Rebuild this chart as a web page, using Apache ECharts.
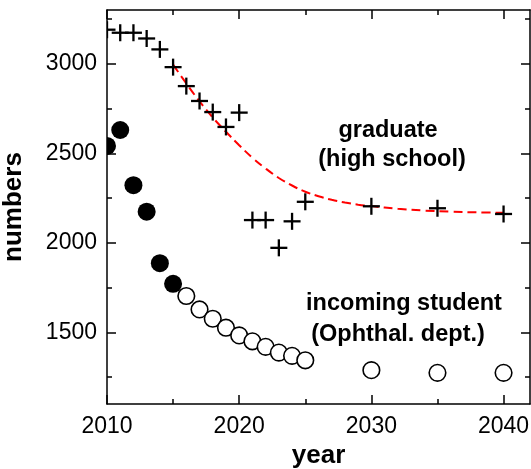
<!DOCTYPE html>
<html>
<head>
<meta charset="utf-8">
<script src="https://cdn.jsdelivr.net/npm/echarts@6/dist/echarts.min.js"></script>
<style>html,body{margin:0;padding:0;background:#fff;}#c{width:531px;height:469px;}</style>
</head>
<body>
<div id="c"></div>
<script>
// graduate (high school) - crosses
const gradYears = [2010, 2011, 2012, 2013, 2014, 2015, 2016, 2017, 2018, 2019, 2020, 2021, 2022, 2023, 2024, 2025, 2030, 2035, 2040];
const gradValues = [3190, 3173, 3173, 3141, 3080, 2981, 2875, 2792, 2730, 2647, 2727, 2127, 2127, 1972, 2120, 2229, 2204, 2193, 2161];
// incoming student - filled circles (observed)
const inYearsFilled = [2010, 2011, 2012, 2013, 2014, 2015];
const inValuesFilled = [2541, 2630, 2322, 2174, 1886, 1771];
// incoming student - open circles (projected)
const inYearsOpen = [2016, 2017, 2018, 2019, 2020, 2021, 2022, 2023, 2024, 2025, 2030, 2035, 2040];
const inValuesOpen = [1703, 1628, 1576, 1526, 1483, 1450, 1419, 1387, 1369, 1344, 1289, 1274, 1274];
// red dashed fitted curve
const fitYears = [2015, 2016, 2017, 2018, 2019, 2020, 2021, 2022, 2023, 2024, 2025, 2026, 2027, 2028, 2029, 2030, 2032, 2034, 2036, 2038, 2040];
const fitValues = [2995, 2890, 2790, 2700, 2620, 2545, 2475, 2415, 2362, 2320, 2285, 2260, 2240, 2225, 2213, 2205, 2190, 2180, 2174, 2170, 2168];
// ticks
const xMajor = [2010, 2020, 2030, 2040];
const xMinor = [2015, 2025, 2035];
const yMajor = [1500, 2000, 2500, 3000];
const yMinor = [1250, 1750, 2250, 2750, 3250];

const zip = (a, b) => a.map((v, i) => [v, b[i]]);
const FONT = '"Liberation Sans", Arial, sans-serif';
const lineStyle = { color: '#000', width: 1.5 };

function xAx(pos, ticks, len, showLine, showLabel) {
  return {
    type: 'value', position: pos, min: 2010, max: 2042,
    axisLine: { show: showLine, lineStyle: lineStyle },
    axisTick: { show: true, inside: true, length: len, customValues: ticks, lineStyle: { color: '#000', width: 1.5 } },
    axisLabel: { show: showLabel, customValues: xMajor, formatter: v => String(v), color: '#000', fontSize: 23, fontFamily: FONT, margin: 11 },
    splitLine: { show: false }
  };
}
function yAx(pos, ticks, len, showLine, showLabel) {
  return {
    type: 'value', position: pos, min: 1100, max: 3300,
    axisLine: { show: showLine, lineStyle: lineStyle },
    axisTick: { show: true, inside: true, length: len, customValues: ticks, lineStyle: { color: '#000', width: 1.5 } },
    axisLabel: { show: showLabel, customValues: yMajor, formatter: v => String(v), color: '#000', fontSize: 23, fontFamily: FONT, margin: 10 },
    splitLine: { show: false }
  };
}

const xAxes = [
  Object.assign(xAx('bottom', xMajor, 9, true, true), {
    name: 'year', nameLocation: 'middle', nameGap: 37,
    nameTextStyle: { color: '#000', fontSize: 26, fontWeight: 'bold', fontFamily: FONT }
  }),
  xAx('bottom', xMinor, 5, false, false),
  xAx('top', xMajor, 9, true, false),
  xAx('top', xMinor, 5, false, false)
];
const yAxes = [
  Object.assign(yAx('left', yMajor, 9, true, true), {
    name: 'numbers', nameLocation: 'middle', nameGap: 80,
    nameTextStyle: { color: '#000', fontSize: 26, fontWeight: 'bold', fontFamily: FONT }
  }),
  yAx('left', yMinor, 5, false, false),
  yAx('right', yMajor, 9, true, false),
  yAx('right', yMinor, 5, false, false)
];

function crossItem(params, api) {
  const p = api.coord([api.value(0), api.value(1)]);
  const h = 8.5;
  const st = { stroke: '#000', lineWidth: 2.3 };
  return { type: 'group', children: [
    { type: 'line', shape: { x1: p[0] - h, y1: p[1], x2: p[0] + h, y2: p[1] }, style: st },
    { type: 'line', shape: { x1: p[0], y1: p[1] - h, x2: p[0], y2: p[1] + h }, style: st }
  ]};
}
function filledItem(params, api) {
  const p = api.coord([api.value(0), api.value(1)]);
  return { type: 'circle', shape: { cx: p[0], cy: p[1], r: 9 }, style: { fill: '#000' } };
}
function openItem(params, api) {
  const p = api.coord([api.value(0), api.value(1)]);
  return { type: 'circle', shape: { cx: p[0], cy: p[1], r: 8.3 }, style: { fill: '#fff', stroke: '#000', lineWidth: 1.6 } };
}

const textStyle = (t, x, y) => ({
  type: 'text', x: x, y: y, z: 10,
  style: { text: t, fill: '#000', font: 'bold 23.5px ' + FONT, align: 'center', verticalAlign: 'middle' }
});

const chart = echarts.init(document.getElementById('c'), null, { renderer: 'canvas' });
chart.setOption({
  animation: false,
  backgroundColor: '#fff',
  grid: { left: 107, right: 1, top: 10, bottom: 65, containLabel: false, outerBoundsMode: 'none' },
  xAxis: xAxes,
  yAxis: yAxes,
  series: [
    { type: 'line', data: zip(fitYears, fitValues), smooth: 0.4, showSymbol: false, symbol: 'none',
      lineStyle: { color: '#ff0000', width: 2, type: [9, 5] }, z: 1 },
    { type: 'custom', renderItem: crossItem, data: zip(gradYears, gradValues), clip: true, z: 2 },
    { type: 'custom', renderItem: filledItem, data: zip(inYearsFilled, inValuesFilled), clip: true, z: 2 },
    { type: 'custom', renderItem: openItem, data: zip(inYearsOpen, inValuesOpen), clip: true, z: 3 }
  ],
  graphic: [
    textStyle('graduate', 388, 131),
    textStyle('(high school)', 392, 160),
    textStyle('incoming student', 404, 304),
    textStyle('(Ophthal. dept.)', 398, 335)
  ]
});
</script>
</body>
</html>
